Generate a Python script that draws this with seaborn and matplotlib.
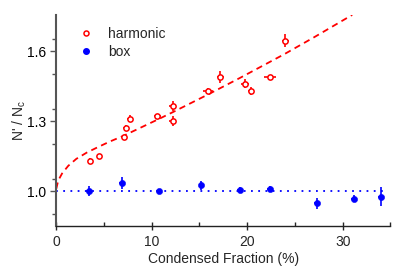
import matplotlib
matplotlib.use("Agg")
import matplotlib.pyplot as plt
import seaborn as sns
import pandas as pd
from matplotlib.lines import Line2D
from matplotlib.ticker import MultipleLocator

# harmonic trap data
harm_x = [3.5, 4.5, 7.1, 7.3, 7.7, 10.6, 12.2, 12.2, 15.9, 17.2, 19.8, 20.4, 22.4, 24.0]
harm_y = [1.13, 1.15, 1.23, 1.27, 1.31, 1.32, 1.365, 1.30, 1.43, 1.49, 1.46, 1.43, 1.49, 1.645]
harm_yerr = [0.01, 0.008, 0.012, 0.012, 0.015, 0.012, 0.02, 0.02, 0.012, 0.025, 0.02, 0.018, 0.005, 0.027]
harm_xerr = [0.2, 0.2, 0.3, 0.3, 0.3, 0.35, 0.35, 0.35, 0.5, 0.4, 0.4, 0.35, 0.6, 0.35]

# box trap data
box_x = [3.45, 6.83, 10.77, 15.2, 19.2, 22.4, 27.3, 31.2, 34.0]
box_y = [1.0, 1.033, 1.0, 1.024, 1.004, 1.01, 0.947, 0.966, 0.976]
box_yerr = [0.02, 0.025, 0.01, 0.02, 0.012, 0.012, 0.025, 0.015, 0.04]
box_xerr = [0.3, 0.3, 0.3, 0.3, 0.3, 0.3, 0.3, 0.3, 0.3]

# theory curve
fit_x = [0, 0.2, 0.6, 1.25, 2.1, 3.2, 4.4, 5.6, 7.0, 10.6, 12.2, 15.9, 19.2, 23.9, 27.0, 31.0]
fit_y = [1.01, 1.045, 1.075, 1.108, 1.138, 1.165, 1.189, 1.212, 1.236, 1.306, 1.338, 1.414, 1.484, 1.587, 1.659, 1.755]
box_line_x = [0, 34.5]
box_line_y = [1.0, 1.0]

sns.set_style("ticks")
plt.rcParams['font.family'] = ['Liberation Sans', 'DejaVu Sans']

fig = plt.figure(figsize=(4.15, 2.71), dpi=100)
ax = fig.add_axes([0.1357, 0.166, 0.805, 0.779])

fit_df = pd.DataFrame({'x': fit_x, 'y': fit_y})
sns.lineplot(data=fit_df, x='x', y='y', ax=ax, color='red', lw=1.3,
             sort=False, estimator=None)
ax.lines[-1].set_dashes([3.5, 2.5])
bl_df = pd.DataFrame({'x': box_line_x, 'y': box_line_y})
sns.lineplot(data=bl_df, x='x', y='y', ax=ax, color='blue', lw=1.3,
             sort=False, estimator=None)
ax.lines[-1].set_dashes([1, 3])

ax.errorbar(harm_x, harm_y, yerr=harm_yerr, xerr=harm_xerr, fmt='none',
            ecolor='red', elinewidth=1.2, capsize=0)
ax.errorbar(box_x, box_y, yerr=box_yerr, xerr=box_xerr, fmt='none',
            ecolor='blue', elinewidth=1.2, capsize=0)

ax.plot(harm_x, harm_y, 'o', mfc='white', mec='red', mew=1.1, ms=3.8)
sns.scatterplot(x=box_x, y=box_y, ax=ax, color='blue', s=20, edgecolor='blue', zorder=5)

ax.set_xlim(0, 35)
ax.set_ylim(0.85, 1.755)
ax.set_xticks([0, 10, 20, 30])
ax.xaxis.set_minor_locator(MultipleLocator(5))
ax.set_yticks([1.0, 1.3, 1.6])
ax.set_yticklabels(['1.0', '1.3', '1.6'])
ax.yaxis.set_minor_locator(MultipleLocator(0.15))
ax.tick_params(axis='x', which='major', direction='inout', length=6, width=1, labelsize=10)
ax.tick_params(axis='x', which='minor', direction='in', length=3, width=1)
ax.tick_params(axis='y', which='major', direction='out', length=4, width=1, labelsize=10, colors='#555555', labelcolor='black')
ax.tick_params(axis='y', which='minor', direction='out', length=3, width=1, colors='#555555')

for s in ['top', 'right']:
    ax.spines[s].set_visible(False)
ax.spines['left'].set_color('#555555')
ax.spines['left'].set_linewidth(1.5)
ax.spines['bottom'].set_color('#222222')
ax.spines['bottom'].set_linewidth(1.0)

ax.set_xlabel("Condensed Fraction (%)", fontsize=10, labelpad=2)
ax.set_ylabel("N' / N$_\\mathregular{c}$", fontsize=10, labelpad=-1)

handles = [Line2D([], [], ls='none', marker='o', mfc='white', mec='red', mew=1.1, ms=3.6),
           Line2D([], [], ls='none', marker='o', color='blue', ms=4)]
ax.legend(handles, ['harmonic', 'box'], loc='upper left', frameon=False, fontsize=10,
          handlelength=1.0, handletextpad=1.1, borderaxespad=0.0,
          bbox_to_anchor=(0.05, 0.97), labelspacing=0.3)

fig.savefig("out.png", dpi=100)
